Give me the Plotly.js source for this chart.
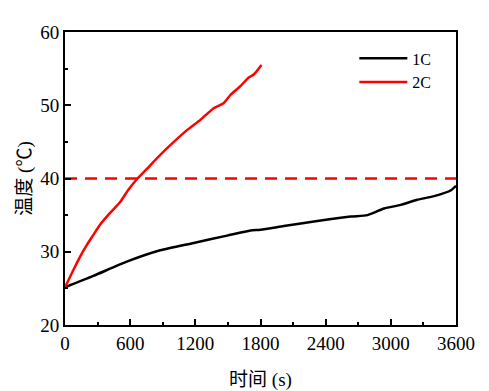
<!DOCTYPE html>
<html><head><meta charset="utf-8">
<script src="https://cdn.plot.ly/plotly-3.0.1.min.js"></script>
<style>html,body{margin:0;padding:0;background:#fff}#chart{width:489px;height:391px}</style>
</head><body><div id="chart"></div>
<script>
// 1C series
const time1C = [0, 261, 569, 877, 1185, 1492, 1708, 1800, 2015, 2323, 2631, 2785, 2938, 3092, 3246, 3400, 3554, 3600];
const temp1C = [25.15, 26.7, 28.65, 30.2, 31.2, 32.2, 32.9, 33.0, 33.5, 34.2, 34.8, 35.0, 35.9, 36.4, 37.1, 37.6, 38.4, 39.0];
// 2C series
const time2C = [0, 77, 138, 200, 261, 323, 415, 508, 585, 662, 754, 785, 938, 1123, 1246, 1369, 1462, 1523, 1615, 1692, 1738, 1809];
const temp2C = [25.15, 27.5, 29.3, 30.9, 32.3, 33.7, 35.3, 36.8, 38.5, 39.9, 41.3, 41.8, 44.1, 46.6, 48.0, 49.6, 50.3, 51.4, 52.6, 53.8, 54.2, 55.5];
// threshold
const limitX = [0, 3600];
const limitY = [40, 40];
const xTicks = [0, 600, 1200, 1800, 2400, 3000, 3600];
const yTicks = [20, 30, 40, 50, 60];

const font = {family: '"Liberation Serif", "Times New Roman", "Noto Sans CJK SC", serif', color: '#000'};

const traces = [
  {x: limitX, y: limitY, mode: 'lines', line: {color: '#ff0000', width: 2.5, dash: '12px,8px'}, showlegend: false},
  {x: time1C, y: temp1C, mode: 'lines', name: '1C', line: {color: '#000', width: 2.5, shape: 'spline', smoothing: 0.6}},
  {x: time2C, y: temp2C, mode: 'lines', name: '2C', line: {color: '#ff0000', width: 2.5, shape: 'spline', smoothing: 0.6}}
];

const axisCommon = {
  showline: true, linecolor: '#000', linewidth: 2, mirror: true,
  ticks: 'inside', ticklen: 6, tickwidth: 2, tickcolor: '#000',
  showgrid: false, zeroline: false,
  tickfont: Object.assign({size: 19}, font)
};

const layout = {
  width: 489, height: 391,
  margin: {l: 65, r: 33, t: 32, b: 66},
  paper_bgcolor: '#fff', plot_bgcolor: '#fff',
  font: font,
  showlegend: true,
  legend: {x: 0.74, y: 0.968, xanchor: 'left', yanchor: 'top', bgcolor: 'rgba(0,0,0,0)',
           font: Object.assign({size: 16}, font), tracegroupgap: 0, itemwidth: 48},
  xaxis: Object.assign({}, axisCommon, {
    range: [0, 3600], tickvals: xTicks, ticktext: xTicks.map(String),
    minor: {ticks: 'inside', ticklen: 3, tickwidth: 2, tickcolor: '#000', dtick: 300, tick0: 0},
    title: {text: '时间 (s)', font: Object.assign({size: 19}, font), standoff: 20}
  }),
  yaxis: Object.assign({}, axisCommon, {
    range: [20, 60], tickvals: yTicks, ticktext: yTicks.map(String),
    minor: {ticks: 'inside', ticklen: 3, tickwidth: 2, tickcolor: '#000', dtick: 5, tick0: 0},
    title: {text: '温度 (℃)', font: Object.assign({size: 19}, font), standoff: 4}
  })
};

Plotly.newPlot('chart', traces, layout, {staticPlot: true, displayModeBar: false});
</script></body></html>
